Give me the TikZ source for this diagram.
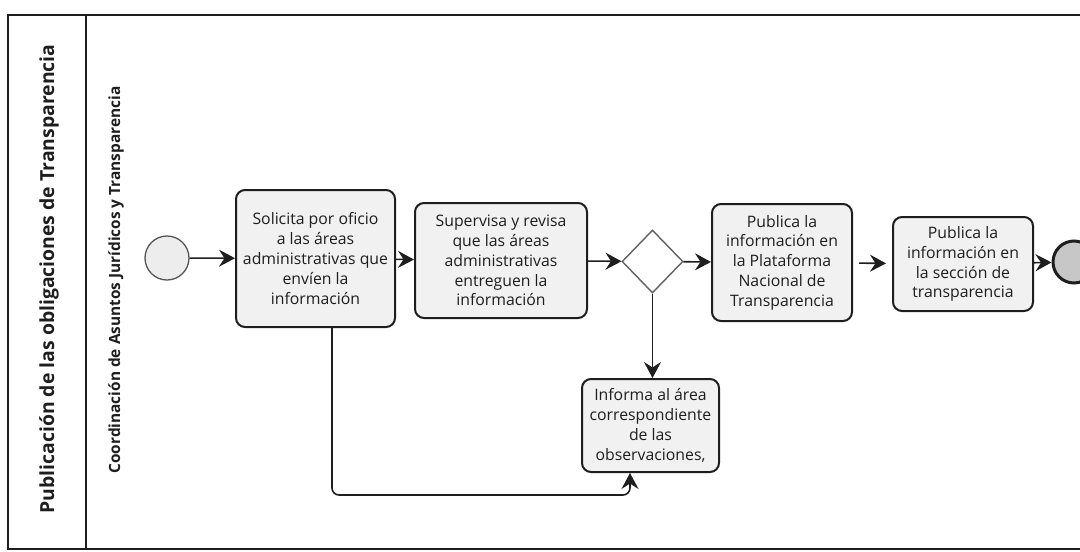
\documentclass[tikz,border=0pt]{standalone}
\usepackage{fontspec}
\setmainfont{Open Sans}
\usetikzlibrary{arrows.meta,shapes.geometric,calc}
\definecolor{ink}{HTML}{1E1E1E}
\definecolor{taskfill}{HTML}{F1F1F1}
\begin{document}
\begin{tikzpicture}[x=1pt,y=-1pt,
  task/.style={draw=ink, line width=2pt, rounded corners=9pt, fill=taskfill,
    align=center, inner sep=0pt, text=ink,
    font=\fontsize{15.8}{19.8}\selectfont},
  startev/.style={circle, draw=ink!75, line width=1.3pt, fill=black!7,
    minimum size=44pt, inner sep=0pt},
  endev/.style={circle, draw=ink, line width=3pt, fill=black!22,
    minimum size=42pt, inner sep=0pt},
  gate/.style={diamond, draw=ink!70, line width=1.4pt, fill=white,
    minimum width=61pt, minimum height=63pt, inner sep=0pt},
  flow/.style={draw=ink, line width=1.6pt,
    -{Stealth[length=16pt,width=17pt,inset=5.5pt]}},
  lanetitle/.style={rotate=90, text=ink}]
\useasboundingbox (0,0) rectangle (1080,552);

% pool and lane frame
\draw[ink, line width=1.2pt] (1080,15) -- (8,15) -- (8,549) -- (1080,549);
\draw[ink, line width=1.2pt] (86,15) -- (86,549);
\node[lanetitle, font=\fontsize{19.4}{22}\selectfont\bfseries] (pool) at (49,279)
  {Publicación de las obligaciones de Transparencia};
\node[lanetitle, font=\fontsize{15.4}{17}\selectfont\bfseries] (lane) at (116,280)
  {Coordinación de Asuntos Jurídicos y Transparencia};

% events, tasks and gateway
\node[startev] (start) at (167,258) {};
\node[task, minimum width=159pt, minimum height=137pt] (t1) at (315.5,258.5)
  {Solicita por oficio\\a las áreas\\administrativas que\\envíen la\\información};
\node[task, minimum width=172pt, minimum height=115pt] (t2) at (501,260.5)
  {Supervisa y revisa\\que las áreas\\administrativas\\entreguen la\\información};
\node[gate] (gw) at (652.5,261.5) {};
\node[task, minimum width=140pt, minimum height=117pt] (t3) at (782,262.5)
  {Publica la\\información en\\la Plataforma\\Nacional de\\Transparencia};
\node[task, minimum width=140pt, minimum height=94pt] (t4) at (963,264)
  {Publica la\\información en\\la sección de\\transparencia};
\node[endev] (end) at (1074,262) {};
\node[task, minimum width=137pt, minimum height=93pt] (t5) at (650.5,425.5)
  {Informa al área\\correspondiente\\de las\\observaciones,};

% sequence flows
\draw[flow] (start) -- (t1);
\draw[flow] (t1) -- (t2);
\draw[flow] (t2) -- (gw);
\draw[flow] (gw) -- (t3);
\draw[flow, shorten <=6pt, shorten >=6pt] (t3) -- (t4);
\draw[flow] (t4) -- (end);
\draw[flow] (gw.south) -- (gw.south |- t5.north);
\coordinate (loopstart) at ($(t1.south)+(16.5,0)$);
\coordinate (loopend) at ($(t5.south)+(-20.5,0)$);
\draw[flow, rounded corners=7pt] (loopstart) -- (loopstart |- 0,495) -- (loopend |- 0,495) -- (loopend);
\end{tikzpicture}
\end{document}
